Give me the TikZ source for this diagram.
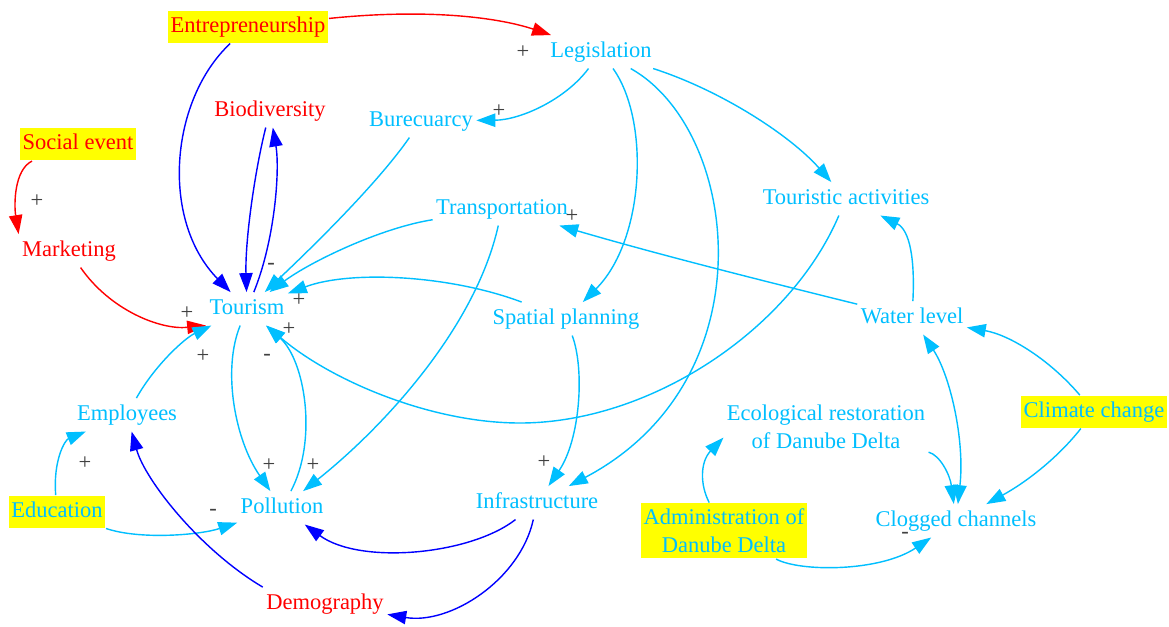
\documentclass[tikz,border=0pt]{standalone}
\usepackage{fontspec}
\setmainfont{Liberation Serif}
\usetikzlibrary{arrows.meta}
\definecolor{LinkCyan}{HTML}{00BFFF}
\definecolor{LinkBlue}{HTML}{0000FF}
\definecolor{LinkRed}{HTML}{FF0000}
\definecolor{Marker}{HTML}{FFFF00}
\definecolor{SignGrey}{HTML}{404040}

\begin{document}
\begin{tikzpicture}[x=0.025cm,y=-0.025cm,>={Triangle[length=13.5pt,width=9.5pt]},line width=1pt,
every node/.style={font=\fontsize{16}{20}\selectfont,inner xsep=2pt,inner ysep=3.9pt,yshift=-2pt},
cv/.style={text=LinkCyan,text height=11.5pt,text depth=3.5pt},rv/.style={text=LinkRed,text height=11.5pt,text depth=3.5pt},
mv/.style={text=LinkCyan,align=center},ext/.style={fill=Marker},sgn/.style={text=SignGrey,inner sep=0pt},
cl/.style={->,LinkCyan},bl/.style={->,LinkBlue},rl/.style={->,LinkRed}]
\fill[white](0,0)rectangle(1169,626);\useasboundingbox(0,0)rectangle(1169,626);
\node[ext,rv](ent)at(248,24){Entrepreneurship};\node[cv](leg)at(601,49){Legislation};\node[rv](bio)at(270,108){Biodiversity};\node[cv](bur)at(421,118){Burecuarcy};
\node[ext,rv](soc)at(78,141.5){Social event};\node[cv](tact)at(846,196){Touristic activities};\node[cv](trn)at(502,206){Transportation};\node[rv](mkt)at(69,248){Marketing};
\node[cv](tour)at(247,306){Tourism};\node[cv](spl)at(566,316){Spatial planning};\node[cv](wat)at(912,315){Water level};\node[cv](emp)at(127,412){Employees};
\node[mv](eco)at(826,424){Ecological restoration\\of Danube Delta};\node[ext,cv](clim)at(1094,409){Climate change};\node[ext,cv](edu)at(57,509){Education};
\node[cv](pol)at(282,505){Pollution};\node[cv](inf)at(537,500){Infrastructure};\node[ext,mv](adm)at(724,528){Administration of\\Danube Delta};
\node[cv](clog)at(956,518){Clogged channels};\node[rv](dem)at(325,601){Demography};
\draw[rl](ent)..controls(430,8)and(500,18)..(leg);\draw[bl](ent)..controls(170,100)and(160,220)..(tour);
\draw[bl](bio)..controls(255,170)and(245,240)..(tour);\draw[bl](tour)..controls(275,240)and(280,170)..(bio);
\draw[rl](soc.200)..controls(14,170)and(14,205)..(mkt.north west);\draw[rl](mkt)..controls(110,310)and(160,330)..(tour.south west);
\draw[cl](leg)..controls(565,100)and(520,120)..(bur);\draw[cl](bur)..controls(380,180)and(320,240)..(tour);
\draw[cl](trn)..controls(380,228)and(310,262)..(tour);\draw[cl](leg)..controls(650,120)and(645,240)..(spl);
\draw[cl](leg)..controls(740,130)and(770,380)..(inf);\draw[cl](leg)..controls(720,90)and(790,135)..(tact);
\draw[cl](spl)..controls(450,275)and(350,270)..(tour);\draw[cl](trn)..controls(475,330)and(380,430)..(pol);
\draw[cl](tact)..controls(790,330)and(650,423)..(520,423)..controls(430,423)and(330,380)..(tour);
\draw[cl](wat)..controls(760,280)and(660,255)..(trn);\draw[cl](wat)..controls(915,260)and(910,230)..(tact);
\draw[cl](clim)..controls(1050,360)and(1010,335)..(wat);\draw[cl](clim)..controls(1060,455)and(1030,480)..(clog);
\draw[cl,<->](wat)..controls(950,375)and(965,440)..(clog);\draw[cl](eco)..controls(940,455)and(950,475)..(clog);
\draw[cl](adm)..controls(700,485)and(700,462)..(eco.186);\draw[cl](adm)..controls(800,572)and(880,572)..(clog);
\draw[cl](tour)..controls(222,370)and(235,440)..(pol);\draw[cl](pol)..controls(318,440)and(305,360)..(tour);
\draw[cl](emp)..controls(155,365)and(185,338)..(tour);\draw[cl](edu)..controls(53,460)and(65,440)..(emp);
\draw[cl](edu)..controls(140,540)and(200,535)..(pol);\draw[cl](spl)..controls(585,370)and(580,440)..(inf);
\draw[bl](dem.north west)..controls(200,550)and(145,480)..(emp);\draw[bl](inf)..controls(470,555)and(360,565)..(pol);
\draw[bl](inf)..controls(520,580)and(450,625)..(dem);
\foreach \x/\y/\s [count=\i] in {523/49/+,499/108/+,37/198/+,271/264/-,187/310/+,299/297/+,289/326/+,267/355/-,203/353/+,572/213/+,85/460/+,269/462/+,313/462/+,213/510/-,544/459/+,905/533/-}{\node[sgn](sg\i)at(\x,\y){\s};}
\end{tikzpicture}
\end{document}
